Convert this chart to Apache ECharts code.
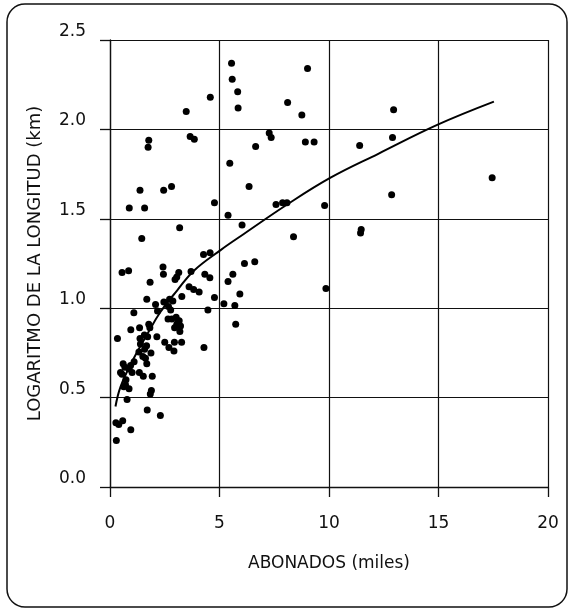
<!DOCTYPE html>
<html>
<head>
<meta charset="utf-8">
<script src="https://cdn.jsdelivr.net/npm/echarts@6/dist/echarts.min.js"></script>
<style>
html,body{margin:0;padding:0;background:#fff;}
#chart{width:573px;height:611px;}
</style>
</head>
<body>
<div id="chart"></div>
<script>
// Scatter data: abonados (miles) vs logaritmo de la longitud (km)
var abonados = [
 5.55,5.58,5.83,5.85,9.02,4.58,3.48,8.11,8.76,12.95,
 1.77,1.74,3.66,3.85,7.27,7.36,8.92,9.32,6.65,11.40,
 12.90,5.47,1.37,2.45,2.81,6.35,0.88,1.58,4.77,7.58,
 7.88,8.08,9.80,17.45,12.86,5.39,1.45,3.18,6.03,8.38,
 11.47,11.44,4.27,4.57,6.14,6.61,0.55,0.85,2.42,2.44,
 3.14,3.05,2.97,3.70,4.33,4.56,5.61,5.39,1.83,9.86,
 3.61,3.82,4.07,5.93,3.28,4.77,1.68,5.20,5.70,2.87,
 2.67,2.77,2.08,2.17,4.47,1.09,5.74,2.65,2.82,3.02,
 3.16,3.10,3.22,3.19,3.27,2.94,2.69,2.92,1.82,1.35,
 0.95,0.34,1.72,2.14,2.50,4.29,1.37,1.57,1.67,1.87,
 1.58,1.50,1.68,1.10,0.60,0.68,0.87,1.34,1.52,1.93,
 0.55,0.73,0.87,0.63,1.89,1.84,0.78,1.70,2.30,0.27,
 0.40,0.58,0.95,0.29,1.77,1.32,0.48,0.94,1.01,0.71,
 1.62,2.46,1.39,2.72,2.95,3.05
];
var logLongitud = [
 2.37,2.28,2.21,2.12,2.34,2.18,2.10,2.15,2.08,2.11,
 1.94,1.90,1.96,1.945,1.98,1.955,1.93,1.93,1.905,1.91,
 1.955,1.81,1.66,1.66,1.68,1.68,1.56,1.56,1.59,1.58,
 1.59,1.59,1.575,1.73,1.635,1.52,1.39,1.45,1.465,1.40,
 1.44,1.42,1.30,1.31,1.25,1.26,1.20,1.21,1.23,1.19,
 1.20,1.175,1.16,1.205,1.19,1.17,1.19,1.15,1.145,1.11,
 1.12,1.105,1.09,1.08,1.065,1.06,1.05,1.025,1.015,1.04,
 1.01,0.99,1.02,0.985,0.99,0.975,0.91,0.94,0.94,0.95,
 0.93,0.92,0.90,0.87,0.81,0.81,0.78,0.76,0.89,0.89,
 0.88,0.83,0.84,0.84,0.81,0.78,0.83,0.85,0.79,0.75,
 0.77,0.73,0.69,0.70,0.69,0.67,0.66,0.64,0.62,0.62,
 0.63,0.60,0.55,0.56,0.54,0.52,0.49,0.43,0.40,0.36,
 0.35,0.37,0.32,0.26,0.91,0.755,0.64,0.68,0.64,0.57,
 0.72,1.035,0.80,1.05,0.89,0.91
];
// Fitted curve
var curveX = [0.25,0.48,1.0,1.77,2.31,3.07,3.83,5.05,6.11,8.09,10.07,12.27,14.94,17.53];
var curveY = [0.45,0.56,0.70,0.87,0.98,1.10,1.21,1.325,1.415,1.58,1.73,1.865,2.025,2.155];
// Axis ticks
var xTicks = [0,5,10,15,20];
var yTicks = [0.0,0.5,1.0,1.5,2.0,2.5];

var points = abonados.map(function(x,i){return [x, logLongitud[i]];});
var curve = curveX.map(function(x,i){return [x, curveY[i]];});

var FONT = 'DejaVu Sans';
var chart = echarts.init(document.getElementById('chart'), null, {renderer:'canvas'});
chart.setOption({
  backgroundColor:'#ffffff',
  animation:false,
  graphic:[{
    type:'rect', silent:true, z:-1,
    shape:{x:7,y:4,width:560,height:603,r:18},
    style:{fill:'none',stroke:'#111',lineWidth:1.5}
  }],
  grid:{left:110,right:25,top:40,bottom:124,containLabel:false},
  xAxis:{
    type:'value', min:xTicks[0], max:xTicks[xTicks.length-1], interval:5,
    name:'ABONADOS (miles)', nameLocation:'middle', nameGap:68,
    nameTextStyle:{fontFamily:FONT,fontSize:17,color:'#111'},
    axisLine:{show:true,lineStyle:{color:'#111',width:1.3}},
    axisTick:{show:true,length:10,lineStyle:{color:'#111',width:1.3}},
    axisLabel:{fontFamily:FONT,fontSize:17,color:'#111',margin:28,
      formatter:function(v){return String(v);}},
    splitLine:{show:true,lineStyle:{color:'#111',width:1.2}}
  },
  yAxis:{
    type:'value', min:yTicks[0], max:yTicks[yTicks.length-1], interval:0.5,
    name:'LOGARITMO DE LA LONGITUD (km)', nameLocation:'middle', nameGap:66,
    nameTextStyle:{fontFamily:FONT,fontSize:18,color:'#111'},
    axisLine:{show:true,lineStyle:{color:'#111',width:1.3}},
    axisTick:{show:true,length:10,lineStyle:{color:'#111',width:1.3}},
    axisLabel:{fontFamily:FONT,fontSize:17,color:'#111',margin:24,verticalAlign:'bottom',
      formatter:function(v){return v.toFixed(1);}},
    splitLine:{show:true,lineStyle:{color:'#111',width:1.2}}
  },
  series:[
    {type:'scatter', data:points, symbol:'circle', symbolSize:7,
     itemStyle:{color:'#000', opacity:1}, z:3},
    {type:'line', data:curve, smooth:0.4, showSymbol:false, symbol:'none',
     lineStyle:{color:'#000',width:2}, z:4}
  ]
});
</script>
</body>
</html>
